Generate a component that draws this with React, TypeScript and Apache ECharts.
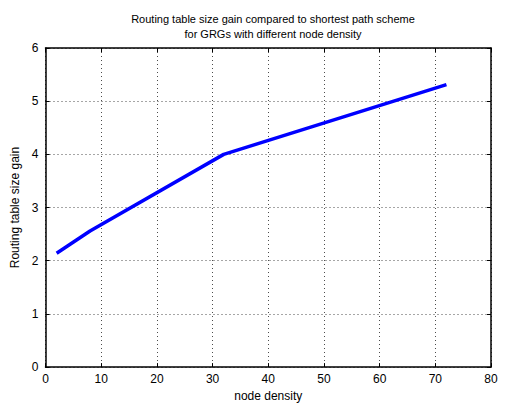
import React, { useEffect, useRef } from "react";
import * as echarts from "echarts";

const titleLines = [
  "Routing table size gain compared to shortest path scheme",
  "for GRGs with different node density",
];
const xName = "node density";
const yName = "Routing table size gain";
const nodeDensity = [2, 8, 32, 72];
const gain = [2.14, 2.56, 4.0, 5.31];

const FONT = "'Liberation Sans', Arial, Helvetica, sans-serif";

export default function App() {
  const ref = useRef<HTMLDivElement>(null);
  useEffect(() => {
    if (!ref.current) return;
    const chart = echarts.init(ref.current, undefined, { renderer: "svg" });
    const grid = { left: 45.5, right: 16, top: 48, bottom: 36 };
    const gridLine = {
      show: true,
      lineStyle: { color: "#000", width: 1, type: [1, 3] as any, opacity: 0.7 },
    };
    chart.setOption({
      animation: false,
      backgroundColor: "#fff",
      title: {
        text: titleLines.join("\n"),
        left: 268,
        textAlign: "center",
        top: 6,
        textStyle: {
          fontFamily: FONT,
          fontSize: 11,
          fontWeight: "normal",
          color: "#000",
          lineHeight: 15,
        },
      },
      grid,
      xAxis: [
        {
          type: "value",
          min: 0,
          max: 80,
          interval: 10,
          name: xName,
          nameLocation: "middle",
          nameGap: 21,
          nameTextStyle: { fontFamily: FONT, fontSize: 12, color: "#000" },
          axisLine: { show: true, onZero: false, lineStyle: { color: "#000", width: 1.5 } },
          axisTick: { show: true, inside: true, length: 4, lineStyle: { color: "#000" } },
          axisLabel: { fontFamily: FONT, fontSize: 12, color: "#000", margin: 6 },
          splitLine: gridLine,
        },
        {
          type: "value",
          position: "top",
          min: 0,
          max: 80,
          interval: 10,
          axisLine: { show: true, onZero: false, lineStyle: { color: "#000", width: 1.5 } },
          axisTick: { show: true, inside: true, length: 4, lineStyle: { color: "#000" } },
          axisLabel: { show: false },
          splitLine: { show: false },
        },
      ],
      yAxis: [
        {
          type: "value",
          min: 0,
          max: 6,
          interval: 1,
          name: yName,
          nameLocation: "middle",
          nameGap: 24,
          nameTextStyle: { fontFamily: FONT, fontSize: 12, color: "#000" },
          axisLine: { show: true, onZero: false, lineStyle: { color: "#000", width: 1.5 } },
          axisTick: { show: true, inside: true, length: 4, lineStyle: { color: "#000" } },
          axisLabel: { fontFamily: FONT, fontSize: 12, color: "#000", margin: 7 },
          splitLine: gridLine,
        },
        {
          type: "value",
          position: "right",
          min: 0,
          max: 6,
          interval: 1,
          axisLine: { show: true, onZero: false, lineStyle: { color: "#000", width: 1.5 } },
          axisTick: { show: true, inside: true, length: 4, lineStyle: { color: "#000" } },
          axisLabel: { show: false },
          splitLine: { show: false },
        },
      ],
      series: [
        {
          type: "line",
          data: nodeDensity.map((x, i) => [x, gain[i]]),
          showSymbol: false,
          symbol: "none",
          lineStyle: { color: "#0000ff", width: 3.5 },
          xAxisIndex: 0,
          yAxisIndex: 0,
        },
      ],
    });
    return () => chart.dispose();
  }, []);
  return (
    <div
      ref={ref}
      style={{ position: "fixed", left: 0, top: 0, width: 507, height: 407 }}
    />
  );
}
